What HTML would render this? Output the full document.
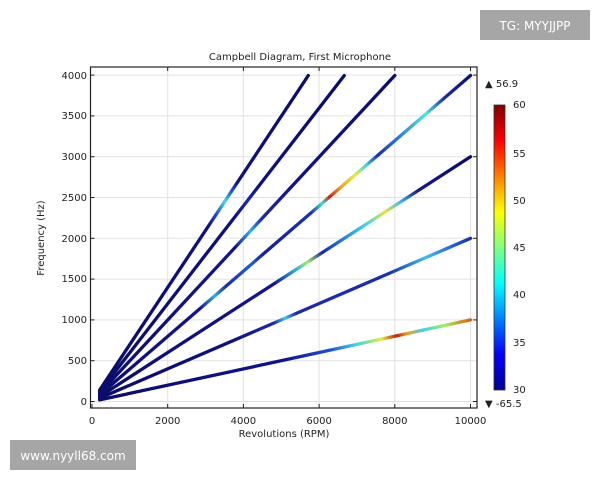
<!DOCTYPE html>
<html><head><meta charset="utf-8"><style>
body{margin:0;background:#fff;}
svg{display:block;font-family:"DejaVu Sans","Liberation Sans",sans-serif;}
</style></head><body>
<svg width="600" height="480" viewBox="0 0 600 480" xmlns="http://www.w3.org/2000/svg">
<defs>
<linearGradient id="cb" x1="0" y1="1" x2="0" y2="0">
<stop offset="0" stop-color="#00008f"/><stop offset="0.125" stop-color="#0000ff"/><stop offset="0.375" stop-color="#00ffff"/><stop offset="0.625" stop-color="#ffff00"/><stop offset="0.875" stop-color="#ff0000"/><stop offset="1" stop-color="#800000"/>
</linearGradient>
<linearGradient id="g42" gradientUnits="userSpaceOnUse" x1="99.6" y1="390.1" x2="308.3" y2="75.5">
<stop offset="0" stop-color="#0c0c6a"/><stop offset="0.52" stop-color="#10107e"/><stop offset="0.56" stop-color="#2050d0"/><stop offset="0.6" stop-color="#40d8e0"/><stop offset="0.63" stop-color="#2060d8"/><stop offset="0.66" stop-color="#10107e"/><stop offset="1" stop-color="#0c0c6a"/>
</linearGradient>
<linearGradient id="g36" gradientUnits="userSpaceOnUse" x1="99.6" y1="391.7" x2="344.3" y2="75.5">
<stop offset="0" stop-color="#0c0c6a"/><stop offset="0.55" stop-color="#10107e"/><stop offset="0.6" stop-color="#1a2aa8"/><stop offset="0.65" stop-color="#10107e"/><stop offset="1" stop-color="#0c0c6a"/>
</linearGradient>
<linearGradient id="g30" gradientUnits="userSpaceOnUse" x1="99.6" y1="393.3" x2="394.8" y2="75.5">
<stop offset="0" stop-color="#0c0c6a"/><stop offset="0.46" stop-color="#14148e"/><stop offset="0.51" stop-color="#30b0e8"/><stop offset="0.55" stop-color="#1a2aa8"/><stop offset="0.65" stop-color="#12128a"/><stop offset="1" stop-color="#0c0c6a"/>
</linearGradient>
<linearGradient id="g24" gradientUnits="userSpaceOnUse" x1="99.6" y1="395" x2="470.5" y2="75.5">
<stop offset="0" stop-color="#0c0c6a"/><stop offset="0.27" stop-color="#14148e"/><stop offset="0.31" stop-color="#30b0e8"/><stop offset="0.34" stop-color="#1a2aa8"/><stop offset="0.41" stop-color="#2060d8"/><stop offset="0.44" stop-color="#16209c"/><stop offset="0.57" stop-color="#1a30b0"/><stop offset="0.6" stop-color="#40e0d0"/><stop offset="0.62" stop-color="#d02010"/><stop offset="0.65" stop-color="#f0a020"/><stop offset="0.69" stop-color="#e0f040"/><stop offset="0.72" stop-color="#40d0e0"/><stop offset="0.75" stop-color="#1a30b0"/><stop offset="0.81" stop-color="#2a80e0"/><stop offset="0.88" stop-color="#50e8e0"/><stop offset="0.93" stop-color="#1a2aa8"/><stop offset="1" stop-color="#0c0c78"/>
</linearGradient>
<linearGradient id="g18" gradientUnits="userSpaceOnUse" x1="99.6" y1="396.6" x2="470.5" y2="156.7">
<stop offset="0" stop-color="#0c0c6a"/><stop offset="0.47" stop-color="#14148e"/><stop offset="0.53" stop-color="#30b0e8"/><stop offset="0.56" stop-color="#a0f060"/><stop offset="0.6" stop-color="#1a2aa8"/><stop offset="0.68" stop-color="#30a0e8"/><stop offset="0.72" stop-color="#40d8e0"/><stop offset="0.77" stop-color="#f0e040"/><stop offset="0.81" stop-color="#40c0e8"/><stop offset="0.86" stop-color="#14148e"/><stop offset="1" stop-color="#0c0c6a"/>
</linearGradient>
<linearGradient id="g12" gradientUnits="userSpaceOnUse" x1="99.6" y1="398.2" x2="470.5" y2="238.3">
<stop offset="0" stop-color="#0c0c6a"/><stop offset="0.35" stop-color="#10107e"/><stop offset="0.47" stop-color="#1a2aa8"/><stop offset="0.5" stop-color="#40c8e8"/><stop offset="0.53" stop-color="#1a2aa8"/><stop offset="0.78" stop-color="#1a30b0"/><stop offset="0.88" stop-color="#40c0e8"/><stop offset="0.95" stop-color="#2a60d8"/><stop offset="1" stop-color="#1a30b0"/>
</linearGradient>
<linearGradient id="g6" gradientUnits="userSpaceOnUse" x1="99.6" y1="399.9" x2="470.5" y2="319.9">
<stop offset="0" stop-color="#0c0c6a"/><stop offset="0.5" stop-color="#12128a"/><stop offset="0.62" stop-color="#2050d0"/><stop offset="0.69" stop-color="#40d0e8"/><stop offset="0.76" stop-color="#e0f040"/><stop offset="0.8" stop-color="#c02010"/><stop offset="0.83" stop-color="#f0a020"/><stop offset="0.87" stop-color="#40d0e8"/><stop offset="0.93" stop-color="#a0f060"/><stop offset="1" stop-color="#e06010"/>
</linearGradient>
</defs>
<g stroke="#e2e2e2" stroke-width="1">
<line x1="167.7" y1="67" x2="167.7" y2="408"/><line x1="243.4" y1="67" x2="243.4" y2="408"/><line x1="319.1" y1="67" x2="319.1" y2="408"/><line x1="394.8" y1="67" x2="394.8" y2="408"/><line x1="470.5" y1="67" x2="470.5" y2="408"/>
<line x1="91" y1="401.5" x2="477" y2="401.5"/><line x1="91" y1="360.7" x2="477" y2="360.7"/><line x1="91" y1="319.9" x2="477" y2="319.9"/><line x1="91" y1="279.1" x2="477" y2="279.1"/><line x1="91" y1="238.3" x2="477" y2="238.3"/><line x1="91" y1="197.5" x2="477" y2="197.5"/><line x1="91" y1="156.7" x2="477" y2="156.7"/><line x1="91" y1="115.9" x2="477" y2="115.9"/><line x1="91" y1="75.1" x2="477" y2="75.1"/>
</g>
<g stroke-width="3.3" stroke-linecap="round" fill="none">
<line x1="99.6" y1="399.9" x2="470.5" y2="319.9" stroke="url(#g6)"/>
<line x1="99.6" y1="398.2" x2="470.5" y2="238.3" stroke="url(#g12)"/>
<line x1="99.6" y1="396.6" x2="470.5" y2="156.7" stroke="url(#g18)"/>
<line x1="99.6" y1="395" x2="470.5" y2="75.5" stroke="url(#g24)"/>
<line x1="99.6" y1="393.3" x2="394.8" y2="75.5" stroke="url(#g30)"/>
<line x1="99.6" y1="391.7" x2="344.3" y2="75.5" stroke="url(#g36)"/>
<line x1="99.6" y1="390.1" x2="308.3" y2="75.5" stroke="url(#g42)"/>
</g>
<rect x="90.5" y="67" width="386.5" height="341" fill="none" stroke="#222" stroke-width="1.2"/>
<g stroke="#222" stroke-width="1">
<line x1="92" y1="408" x2="92" y2="404"/><line x1="167.7" y1="408" x2="167.7" y2="404"/><line x1="243.4" y1="408" x2="243.4" y2="404"/><line x1="319.1" y1="408" x2="319.1" y2="404"/><line x1="394.8" y1="408" x2="394.8" y2="404"/><line x1="470.5" y1="408" x2="470.5" y2="404"/>
<line x1="167.7" y1="67" x2="167.7" y2="71"/><line x1="243.4" y1="67" x2="243.4" y2="71"/><line x1="319.1" y1="67" x2="319.1" y2="71"/><line x1="394.8" y1="67" x2="394.8" y2="71"/><line x1="470.5" y1="67" x2="470.5" y2="71"/>
<line x1="90.5" y1="401.5" x2="94.5" y2="401.5"/><line x1="90.5" y1="360.7" x2="94.5" y2="360.7"/><line x1="90.5" y1="319.9" x2="94.5" y2="319.9"/><line x1="90.5" y1="279.1" x2="94.5" y2="279.1"/><line x1="90.5" y1="238.3" x2="94.5" y2="238.3"/><line x1="90.5" y1="197.5" x2="94.5" y2="197.5"/><line x1="90.5" y1="156.7" x2="94.5" y2="156.7"/><line x1="90.5" y1="115.9" x2="94.5" y2="115.9"/><line x1="90.5" y1="75.1" x2="94.5" y2="75.1"/>
<line x1="477" y1="401.5" x2="473" y2="401.5"/><line x1="477" y1="319.9" x2="473" y2="319.9"/><line x1="477" y1="238.3" x2="473" y2="238.3"/><line x1="477" y1="156.7" x2="473" y2="156.7"/><line x1="477" y1="75.1" x2="473" y2="75.1"/>
</g>
<g font-size="10" fill="#222">
<text x="300" y="60" text-anchor="middle">Campbell Diagram, First Microphone</text>
<g text-anchor="middle"><text x="92" y="424">0</text><text x="167.7" y="424">2000</text><text x="243.4" y="424">4000</text><text x="319.1" y="424">6000</text><text x="394.8" y="424">8000</text><text x="470.5" y="424">10000</text></g>
<text x="284" y="437" text-anchor="middle">Revolutions (RPM)</text>
<g text-anchor="end"><text x="87" y="405">0</text><text x="87" y="364">500</text><text x="87" y="323">1000</text><text x="87" y="282">1500</text><text x="87" y="242">2000</text><text x="87" y="201">2500</text><text x="87" y="160">3000</text><text x="87" y="119">3500</text><text x="87" y="79">4000</text></g>
<text transform="translate(44,238) rotate(-90)" text-anchor="middle">Frequency (Hz)</text>
<text x="485" y="87">▲ 56.9</text>
<text x="485" y="407">▼ -65.5</text>
<text x="513" y="108">60</text><text x="513" y="157">55</text><text x="513" y="204">50</text><text x="513" y="251">45</text><text x="513" y="298">40</text><text x="513" y="346">35</text><text x="513" y="393">30</text>
</g>
<rect x="494" y="105" width="11" height="285" fill="url(#cb)" stroke="#333" stroke-width="0.8"/>
<rect x="480" y="10" width="110" height="30" fill="#a6a6a6"/>
<text x="535" y="30" font-size="12" fill="#fff" text-anchor="middle">TG: MYYJJPP</text>
<rect x="10" y="440" width="126" height="30" fill="#a6a6a6"/>
<text x="73" y="460" font-size="12" fill="#fff" text-anchor="middle">www.nyyll68.com</text>
</svg>
</body></html>
